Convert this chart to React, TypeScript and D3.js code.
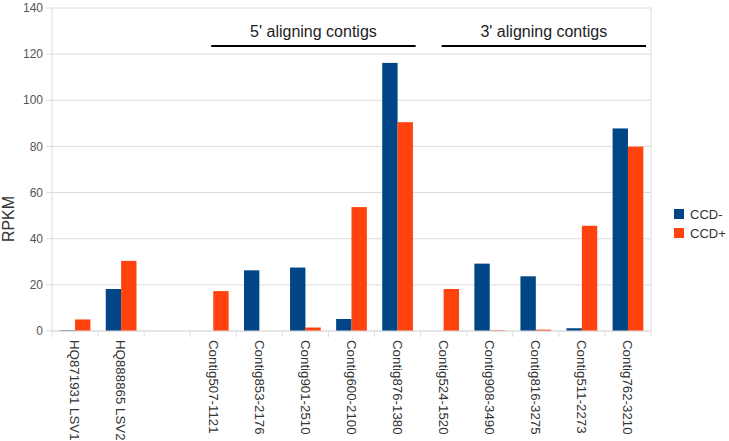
import React from "react";
import * as d3 from "d3";

const categories = [
  "HQ871931 LSV1",
  "HQ888865 LSV2",
  "",
  "Contig507-1121",
  "Contig853-2176",
  "Contig901-2510",
  "Contig600-2100",
  "Contig876-1380",
  "Contig524-1520",
  "Contig908-3490",
  "Contig816-3275",
  "Contig511-2273",
  "Contig762-3210",
];
const ccdMinus = [0.3, 18.2, 0, 0, 26.3, 27.5, 5.2, 116.2, 0, 29.2, 23.7, 1.2, 87.8];
const ccdPlus = [5.0, 30.4, 0, 17.3, 0, 1.5, 53.7, 90.5, 18.2, 0.3, 0.6, 45.6, 79.9];
const yTicks = [0, 20, 40, 60, 80, 100, 120, 140];
const seriesNames = ["CCD-", "CCD+"];
const seriesColors = ["#004586", "#ff420e"];
const groups = [
  { label: "5' aligning contigs", from: "Contig507-1121", to: "Contig876-1380" },
  { label: "3' aligning contigs", from: "Contig524-1520", to: "Contig762-3210" },
];

export default function App() {
  const W = 729, H = 441;
  const left = 52, right = 651, top = 8, bottom = 331;
  const x = d3.scaleBand<number>().domain(d3.range(categories.length)).range([left, right]).paddingInner(0).paddingOuter(0);
  const y = d3.scaleLinear().domain([0, 140]).range([bottom, top]);
  const bw = x.bandwidth();
  const barW = bw / 3;
  const font = "'Liberation Sans', Arial, sans-serif";
  const series = [ccdMinus, ccdPlus];
  const idx = (name: string) => categories.indexOf(name);

  return (
    <svg width={W} height={H} style={{ position: "absolute", left: 0, top: 0, background: "#fff" }} fontFamily={font}>
      {yTicks.map((t) => (
        <g key={t}>
          <line x1={left - 6} x2={right} y1={y(t)} y2={y(t)} stroke="#dcdcdc" strokeWidth={1} />
          <text x={left - 9} y={y(t)} dy="0.35em" textAnchor="end" fontSize={12} fill="#555">{t}</text>
        </g>
      ))}
      <line x1={left} x2={left} y1={top} y2={bottom} stroke="#dcdcdc" />
      <line x1={right} x2={right} y1={top} y2={bottom} stroke="#dcdcdc" />
      {d3.range(categories.length + 1).map((i) => {
        const xx = left + i * bw;
        return <line key={i} x1={xx} x2={xx} y1={bottom} y2={bottom + 6} stroke="#dcdcdc" />;
      })}
      {series.map((vals, s) =>
        vals.map((v, i) =>
          v > 0 ? (
            <rect
              key={`${s}-${i}`}
              x={(x(i) as number) + barW / 2 + s * barW}
              y={y(v)}
              width={barW}
              height={bottom - y(v)}
              fill={seriesColors[s]}
            />
          ) : null
        )
      )}
      <line x1={left} x2={right} y1={bottom} y2={bottom} stroke="#dcdcdc" />
      {categories.map((c, i) => (
        <text
          key={i}
          transform={`translate(${(x(i) as number) + bw / 2},${bottom + 9}) rotate(90)`}
          dy="0.35em"
          fontSize={13.3}
          fill="#333"
        >
          {c}
        </text>
      ))}
      <text transform={`translate(14,219) rotate(-90)`} textAnchor="middle" fontSize={16} fill="#333">RPKM</text>
      {groups.map((g) => {
        const x1 = (x(idx(g.from)) as number) + bw / 2 - 2;
        const x2 = (x(idx(g.to)) as number) + bw - 5;
        return (
          <g key={g.label}>
            <text x={(x1 + x2) / 2} y={37} textAnchor="middle" fontSize={16} fill="#222">{g.label}</text>
            <line x1={x1} x2={x2} y1={46} y2={46} stroke="#000" strokeWidth={2} />
          </g>
        );
      })}
      {seriesNames.map((n, s) => (
        <g key={n} transform={`translate(674,${209 + s * 19})`}>
          <rect width={10} height={10} fill={seriesColors[s]} />
          <text x={16} y={5} dy="0.35em" fontSize={13} fill="#333">{n}</text>
        </g>
      ))}
    </svg>
  );
}
